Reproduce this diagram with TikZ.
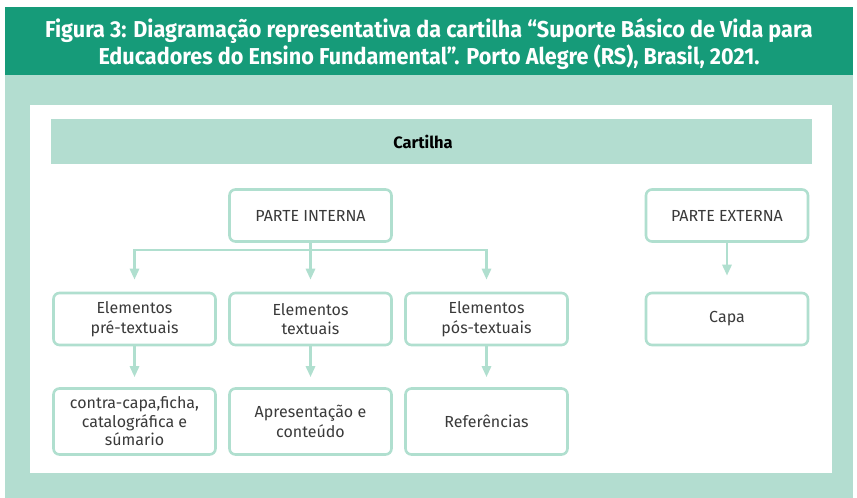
\documentclass[tikz,border=0pt]{standalone}
\usepackage{fontspec}
\setmainfont{Fira Sans}
\newfontfamily\titlefont[FakeStretch=0.94]{Fira Sans}
\usetikzlibrary{arrows.meta,positioning}
\definecolor{headgreen}{HTML}{169B79}
\definecolor{palegreen}{HTML}{B3DDD0}
\definecolor{linegreen}{HTML}{B0DFCF}
\definecolor{textgray}{HTML}{3A3A3A}
\tikzset{
  partbox/.style={draw=linegreen,line width=2.6pt,rounded corners=6pt,fill=white,
    minimum width=162pt,minimum height=52pt,align=center,text=textgray,
    font=\fontsize{16}{19.5}\selectfont},
  arrowline/.style={draw=linegreen,line width=2.8pt,
    -{Triangle[width=9pt,length=11pt]}},
}
\begin{document}
\begin{tikzpicture}[x=1pt,y=-1pt]
\useasboundingbox (0,0) rectangle (857,498);
% frame and title
\fill[palegreen] (5,75) rectangle (853,498);
\fill[headgreen] (5,7) rectangle (853,75);
\node[text=white,align=center,font=\titlefont\bfseries\fontsize{23}{24.5}\selectfont]
  (title) at (429,44) {Figura 3: Diagramação representativa da cartilha “Suporte Básico de Vida para\\
  Educadores do Ensino Fundamental”. Porto Alegre (RS), Brasil, 2021.};
\fill[white] (30,105) rectangle (832,473);
% band
\fill[palegreen] (51,119) rectangle (812,164);
\node[font=\bfseries\fontsize{16.5}{19}\selectfont] (band) at (423,142) {Cartilha};
% parte interna
\node[partbox] (interna) at (310.5,215.5) {PARTE INTERNA};
\node[partbox] (pre) at (134.5,319) {Elementos\\pré-textuais};
\node[partbox] (txt) at (310.5,319) {Elementos\\textuais};
\node[partbox] (pos) at (486.5,319) {Elementos\\pós-textuais};
\node[partbox,minimum height=66pt,font=\fontsize{16}{18.5}\selectfont] (contra) at (134.5,421.5) {contra-capa,ficha,\\catalográfica e\\súmario};
\node[partbox,minimum height=66pt] (apres) at (310.5,421.5) {Apresentação e\\conteúdo};
\node[partbox,minimum height=66pt] (refs) at (486.5,421.5) {Referências};
% parte externa
\node[partbox] (externa) at (727,215.5) {PARTE EXTERNA};
\node[partbox] (capa) at (727,319) {Capa};
% connectors
\coordinate (split) at (310.5,250);
\draw[arrowline,shorten >=12pt] (interna) -- (txt);
\draw[arrowline,shorten >=12pt] (split) -| (pre);
\draw[arrowline,shorten >=12pt] (split) -| (pos);
\draw[arrowline,shorten >=10pt] (pre) -- (contra);
\draw[arrowline,shorten >=10pt] (txt) -- (apres);
\draw[arrowline,shorten >=10pt] (pos) -- (refs);
\draw[arrowline,shorten >=16pt] (externa) -- (capa);
\end{tikzpicture}
\end{document}
